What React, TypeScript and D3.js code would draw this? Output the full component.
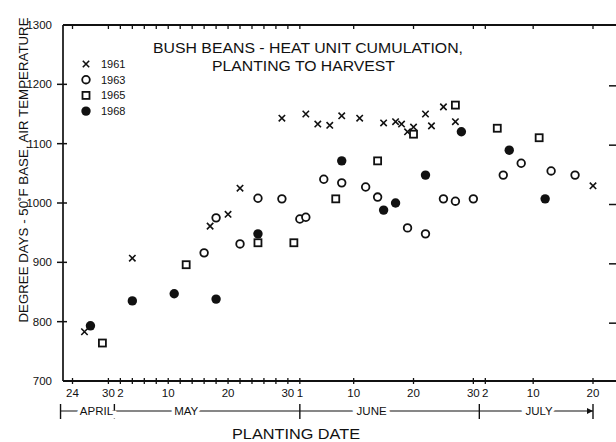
import React from "react";
import * as d3 from "d3";

// ---- data (planting date as MM-DD, degree days) ----
const seriesYears = ["1961", "1963", "1965", "1968"];

const dates1961 = ["04-26", "05-04", "05-17", "05-20", "05-22", "05-29", "06-02", "06-04", "06-06", "06-08", "06-11", "06-15", "06-17", "06-18", "06-19", "06-20", "06-22", "06-23", "06-25", "06-27", "07-20"];
const values1961 = [783, 907, 961, 981, 1025, 1143, 1150, 1133, 1131, 1147, 1143, 1135, 1137, 1133, 1120, 1128, 1150, 1130, 1162, 1137, 1029];

const dates1963 = ["05-16", "05-18", "05-22", "05-25", "05-29", "06-01", "06-02", "06-05", "06-08", "06-12", "06-14", "06-19", "06-22", "06-25", "06-27", "06-30", "07-05", "07-08", "07-13", "07-17"];
const values1963 = [916, 975, 931, 1008, 1007, 973, 976, 1040, 1034, 1027, 1010, 958, 948, 1007, 1003, 1007, 1047, 1067, 1054, 1047];

const dates1965 = ["04-29", "05-13", "05-25", "05-31", "06-07", "06-14", "06-20", "06-27", "07-04", "07-11"];
const values1965 = [764, 896, 933, 933, 1007, 1071, 1116, 1165, 1126, 1110];

const dates1968 = ["04-27", "05-04", "05-11", "05-18", "05-25", "06-08", "06-15", "06-17", "06-22", "06-28", "07-06", "07-12"];
const values1968 = [793, 835, 847, 838, 948, 1071, 988, 1000, 1047, 1120, 1089, 1007];

const yTickValues = [700, 800, 900, 1000, 1100, 1200, 1300];
const majorTickDates = ["04-24", "04-30", "05-02", "05-10", "05-20", "05-30", "06-01", "06-10", "06-20", "06-30", "07-02", "07-10", "07-20"];
const majorTickLabels = ["24", "30", "2", "10", "20", "30", "1", "10", "20", "30", "2", "10", "20"];
const minorTickDates = ["05-04", "05-06", "05-08", "05-12", "05-14", "05-16", "05-18", "05-22", "05-24", "05-26", "05-28"];
const monthNames = ["APRIL", "MAY", "JUNE", "JULY"];
const monthLabelDates = ["04-28", "05-13", "06-13", "07-11"];
const monthBoundaryDates = ["04-22", "05-01", "06-01", "07-01", "07-20"];
const titleLines = ["BUSH BEANS - HEAT UNIT CUMULATION,", "PLANTING TO HARVEST"];
const yAxisTitle = "DEGREE DAYS - 50\u02DAF BASE, AIR TEMPERATURE";
const xAxisTitle = "PLANTING DATE";

const parse = d3.timeParse("%Y-%m-%d");
const toDate = (md: string) => parse("1961-" + md) as Date;

const FONT = "'Liberation Sans', Arial, sans-serif";

type Kind = "x" | "o" | "s" | "f";
const kinds: Kind[] = ["x", "o", "s", "f"];

function Marker({ kind, cx, cy }: { kind: Kind; cx: number; cy: number }) {
  if (kind === "x") {
    const a = 3.2;
    return (
      <path
        d={`M${cx - a},${cy - a}L${cx + a},${cy + a}M${cx - a},${cy + a}L${cx + a},${cy - a}`}
        stroke="#111"
        strokeWidth={1.6}
        fill="none"
      />
    );
  }
  if (kind === "o") return <circle cx={cx} cy={cy} r={3.8} fill="white" stroke="#111" strokeWidth={1.8} />;
  if (kind === "s") return <rect x={cx - 3.5} y={cy - 3.5} width={7} height={7} fill="white" stroke="#111" strokeWidth={1.8} />;
  return <circle cx={cx} cy={cy} r={4.7} fill="#111" />;
}

export default function App() {
  const W = 616, H = 442;
  const left = 63, top = 25, bottom = 381, right = 617;
  const x = d3.scaleTime().domain([toDate("04-24"), toDate("07-20")]).range([72.5, 593]);
  const y = d3.scaleLinear().domain([700, 1300]).range([bottom, top]);

  const series = [
    { dates: dates1961, values: values1961 },
    { dates: dates1963, values: values1963 },
    { dates: dates1965, values: values1965 },
    { dates: dates1968, values: values1968 },
  ];

  const allTicks = [...majorTickDates, ...minorTickDates];
  const monthY = 411;
  const bx = monthBoundaryDates.map((d) => x(toDate(d)));

  return (
    <svg width={W} height={H} style={{ position: "absolute", left: 0, top: 0, background: "white" }} fontFamily={FONT} fill="#111">
      <rect x={0} y={0} width={W} height={H} fill="white" />
      {/* frame */}
      <line x1={left} y1={top} x2={left} y2={bottom} stroke="#111" strokeWidth={1.7} />
      <line x1={left} y1={bottom} x2={right} y2={bottom} stroke="#111" strokeWidth={1.9} />
      <line x1={left} y1={top} x2={right} y2={top} stroke="#111" strokeWidth={1.9} />
      <line x1={right} y1={top} x2={right} y2={bottom} stroke="#111" strokeWidth={1.6} />

      {/* y ticks */}
      {yTickValues.map((v) => (
        <g key={v}>
          {v > 700 && v < 1300 && (
            <>
              <line x1={left - 6} x2={left + 4} y1={y(v)} y2={y(v)} stroke="#111" strokeWidth={1.5} />
              <line x1={right - 8} x2={right} y1={y(v) + 1.5} y2={y(v) + 1.5} stroke="#111" strokeWidth={1.5} />
            </>
          )}
          <text x={52} y={y(v) + 4} textAnchor="end" fontSize={11.5}>{v}</text>
        </g>
      ))}

      {/* x ticks bottom & top */}
      {allTicks.map((d, i) => {
        const px = x(toDate(d));
        return (
          <g key={"t" + i}>
            <line x1={px} x2={px} y1={bottom - 3} y2={bottom + 3} stroke="#111" strokeWidth={1.3} />
            <line x1={px} x2={px} y1={top} y2={top + 4} stroke="#111" strokeWidth={1.3} />
          </g>
        );
      })}
      {majorTickDates.map((d, i) => (
        <text key={"l" + i} x={x(toDate(d))} y={397} textAnchor="middle" fontSize={11.5}>{majorTickLabels[i]}</text>
      ))}

      {/* month bar */}
      <line x1={bx[0]} x2={bx[bx.length - 1]} y1={monthY} y2={monthY} stroke="#111" strokeWidth={1.2} />
      {bx.map((p, i) => (
        <line key={"b" + i} x1={p} x2={p} y1={monthY - 7} y2={monthY + 8} stroke="#111" strokeWidth={1.4} />
      ))}
      <path d={`M${bx[bx.length - 1] - 6},${monthY - 3}L${bx[bx.length - 1]},${monthY}L${bx[bx.length - 1] - 6},${monthY + 3}Z`} fill="#111" />
      {monthNames.map((m, i) => (
        <text key={m} x={x(toDate(monthLabelDates[i]))} y={monthY + 4} textAnchor="middle" fontSize={11.5}
          stroke="white" strokeWidth={7} paintOrder="stroke" fill="#111">{m}</text>
      ))}
      <text x={296} y={439} textAnchor="middle" fontSize={14} textLength={128} lengthAdjust="spacingAndGlyphs">{xAxisTitle}</text>

      {/* y axis title */}
      <g transform="rotate(-90)">
        <text x={-170} y={28} textAnchor="middle" fontSize={13.3}>{yAxisTitle}</text>
      </g>

      {/* title */}
      <text x={308} y={53} textAnchor="middle" fontSize={14} textLength={310} lengthAdjust="spacingAndGlyphs">{titleLines[0]}</text>
      <text x={303.5} y={71} textAnchor="middle" fontSize={14} textLength={183} lengthAdjust="spacingAndGlyphs">{titleLines[1]}</text>

      {/* legend */}
      {seriesYears.map((yr, i) => (
        <g key={yr}>
          <Marker kind={kinds[i]} cx={86} cy={64 + i * 15.7} />
          <text x={101} y={64 + i * 15.7 + 4} fontSize={11}>{yr}</text>
        </g>
      ))}

      {/* points */}
      {series.map((s, si) =>
        s.dates.map((d, i) => (
          <Marker key={si + "-" + i} kind={kinds[si]} cx={x(toDate(d))} cy={y(s.values[i])} />
        ))
      )}
    </svg>
  );
}
